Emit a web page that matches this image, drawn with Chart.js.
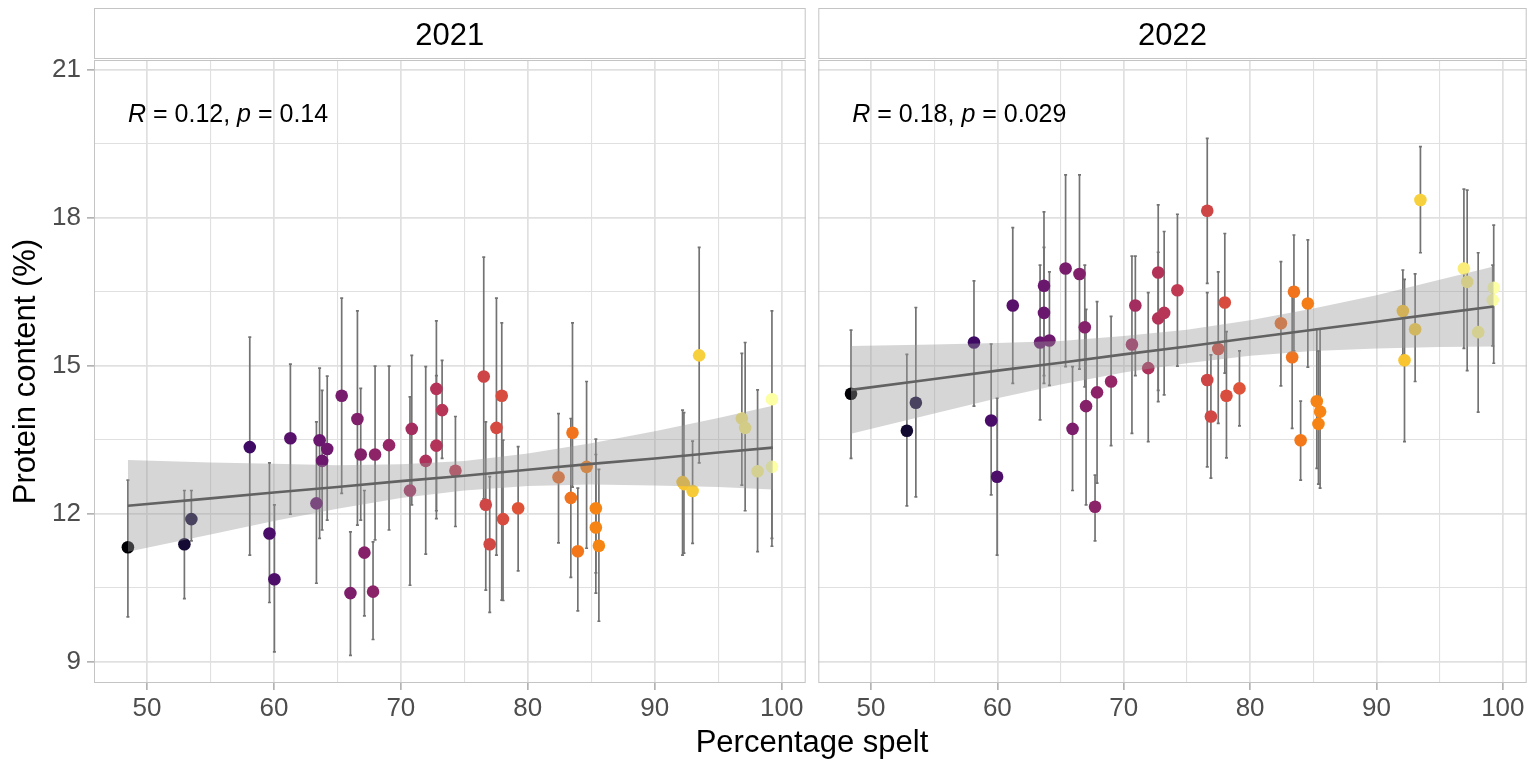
<!DOCTYPE html>
<html>
<head>
<meta charset="utf-8">
<script src="https://cdn.jsdelivr.net/npm/chart.js@4.4.0/dist/chart.umd.min.js"></script>
<style>
  html, body { margin: 0; padding: 0; background: #fff; }
  #wrap { position: relative; width: 1533px; height: 764px; }
  #c2021 { position: absolute; left: 0; top: 0; }
  #c2022 { position: absolute; left: 812px; top: 0; }
  #xtitle { position: absolute; left: 94px; width: 1436px; top: 724px; text-align: center;
            font: 31px 'Liberation Sans', Arial, sans-serif; color: #000; }
</style>
</head>
<body>
<div id="wrap">
  <canvas id="c2021" width="812" height="764"></canvas>
  <canvas id="c2022" width="721" height="764"></canvas>
  <div id="xtitle">Percentage spelt</div>
</div>
<script>
// axes
const xGrid = [50, 55, 60, 65, 70, 75, 80, 85, 90, 95, 100];
const xLabels = [50, 60, 70, 80, 90, 100];
const yGrid = [9, 10.5, 12, 13.5, 15, 16.5, 18, 19.5, 21];
const yLabels = [9, 12, 15, 18, 21];

// 2021
const spelt2021   = [48.5, 52.95, 53.5, 58.1, 59.65, 60.04, 61.3, 63.35, 63.6, 63.8, 64.2, 65.34, 66.03, 66.58, 66.84, 67.13, 67.81, 67.97, 69.07, 70.72, 70.86, 71.96, 72.8, 72.8, 73.25, 74.3, 76.53, 76.69, 77.0, 77.53, 77.95, 78.05, 79.24, 82.42, 83.39, 83.52, 83.94, 84.63, 85.36, 85.36, 85.6, 92.19, 92.3, 92.98, 93.5, 96.86, 97.12, 98.1, 99.23, 99.23];
const protein2021 = [11.32, 11.38, 11.89, 13.35, 11.6, 10.67, 13.53, 12.21, 13.49, 13.07, 13.31, 14.39, 10.39, 13.92, 13.2, 11.21, 10.42, 13.2, 13.39, 12.47, 13.72, 13.07, 14.53, 13.38, 14.1, 12.87, 14.78, 12.18, 11.38, 13.74, 14.39, 11.89, 12.11, 12.74, 12.32, 13.64, 11.24, 12.95, 12.11, 11.72, 11.35, 12.64, 12.6, 12.46, 15.21, 13.93, 13.74, 12.86, 14.32, 12.95];
const lower2021   = [9.91, 10.28, 11.45, 11.16, 10.2, 9.2, 11.99, 10.59, 11.5, 11.67, 11.87, 12.41, 9.13, 11.77, 11.87, 9.93, 9.45, 11.47, 11.67, 10.55, 12.18, 11.18, 12.06, 11.9, 13.12, 11.74, 12.3, 10.45, 10.0, 11.16, 10.25, 10.24, 10.84, 11.41, 10.71, 12.54, 10.03, 11.3, 10.8, 10.39, 9.82, 11.16, 11.2, 11.4, 13.03, 12.58, 12.06, 11.23, 11.34, 11.5];
const upper2021   = [12.68, 12.47, 12.47, 15.58, 13.03, 12.18, 15.03, 13.86, 14.95, 14.5, 14.79, 16.37, 11.63, 16.11, 14.54, 12.47, 11.43, 14.99, 14.99, 14.37, 15.21, 14.98, 15.91, 14.8, 15.11, 13.97, 17.2, 13.86, 12.75, 16.37, 15.87, 13.49, 13.36, 14.03, 13.93, 15.87, 12.52, 14.68, 13.51, 13.2, 12.9, 14.1, 14.05, 13.47, 17.4, 15.25, 15.47, 14.51, 16.11, 14.4];
const fitX2021   = [48.5, 55, 60, 65, 70, 75, 80, 85, 90, 95, 99.3];
const fit2021    = [12.16, 12.31, 12.43, 12.54, 12.66, 12.77, 12.89, 13.01, 13.12, 13.24, 13.34];
const bandLo2021 = [11.23, 11.58, 11.85, 12.10, 12.32, 12.47, 12.56, 12.59, 12.57, 12.54, 12.49];
const bandHi2021 = [13.09, 13.04, 13.01, 12.98, 13.00, 13.07, 13.22, 13.43, 13.67, 13.94, 14.19];
const r2021 = '0.12', p2021 = '0.14';

// 2022
const spelt2022   = [48.42, 52.84, 53.55, 58.15, 59.51, 59.98, 61.22, 63.38, 63.69, 63.69, 64.12, 65.4, 65.95, 66.5, 66.92, 67.02, 67.73, 67.89, 69.0, 70.65, 70.92, 71.94, 72.73, 72.73, 73.2, 74.25, 76.61, 76.61, 76.9, 77.48, 78.0, 78.13, 79.16, 82.44, 83.33, 83.47, 84.0, 84.57, 85.28, 85.41, 85.54, 92.09, 92.22, 93.06, 93.48, 96.92, 97.18, 98.05, 99.28, 99.2];
const protein2022 = [14.43, 13.68, 14.25, 15.47, 13.89, 12.75, 16.22, 15.47, 16.62, 16.07, 15.51, 16.97, 13.72, 16.86, 15.78, 14.18, 12.14, 14.46, 14.68, 15.43, 16.22, 14.95, 16.89, 15.96, 16.07, 16.53, 18.14, 14.71, 13.97, 15.34, 16.28, 14.39, 14.54, 15.86, 15.17, 16.5, 13.49, 16.26, 14.28, 13.82, 14.07, 16.11, 15.11, 15.74, 18.36, 16.97, 16.7, 15.68, 16.58, 16.33];
const lower2022   = [13.12, 12.16, 12.34, 14.18, 12.38, 11.16, 14.64, 13.9, 14.64, 14.8, 14.6, 14.98, 12.47, 14.93, 14.57, 12.18, 11.45, 12.62, 13.38, 13.63, 14.8, 13.46, 14.27, 14.5, 14.41, 14.99, 16.67, 12.95, 12.72, 13.83, 14.85, 13.13, 13.78, 14.59, 13.73, 15.3, 12.68, 14.97, 12.92, 12.6, 12.52, 15.22, 13.46, 14.68, 17.29, 15.35, 14.9, 14.06, 15.05, 15.4];
const upper2022   = [15.72, 15.23, 16.18, 16.72, 15.44, 14.34, 17.8, 17.04, 18.12, 17.4, 16.9, 18.87, 14.98, 18.87, 17.04, 16.14, 12.78, 16.3, 16.0, 17.22, 17.22, 16.48, 18.26, 17.3, 17.72, 18.07, 19.61, 16.48, 15.22, 16.9, 17.68, 15.69, 15.3, 17.11, 16.6, 17.65, 14.28, 17.55, 15.74, 15.3, 15.74, 16.94, 16.75, 16.86, 19.44, 18.58, 18.56, 17.29, 17.85, 17.04];
const fitX2022   = [48.42, 55, 60, 65, 70, 75, 80, 85, 90, 95, 99.28];
const fit2022    = [14.51, 14.73, 14.90, 15.06, 15.23, 15.39, 15.56, 15.73, 15.89, 16.06, 16.20];
const bandLo2022 = [13.62, 14.03, 14.34, 14.62, 14.86, 15.05, 15.20, 15.30, 15.35, 15.38, 15.39];
const bandHi2022 = [15.40, 15.43, 15.46, 15.50, 15.60, 15.73, 15.92, 16.16, 16.43, 16.74, 17.01];
const r2022 = '0.18', p2022 = '0.029';

const FONT = "'Liberation Sans', Arial, sans-serif";
Chart.defaults.font.family = FONT;

// inferno colour scale (viridis "inferno")
const infernoStops = ['#000004', '#160b39', '#420a68', '#6a176e', '#932667', '#bc3754', '#dd513a', '#f37819', '#fca50a', '#f6d746', '#fcffa4'];
function inferno(t) {
  t = Math.max(0, Math.min(1, t));
  const pos = t * (infernoStops.length - 1);
  const i = Math.min(Math.floor(pos), infernoStops.length - 2);
  const f = pos - i;
  const a = infernoStops[i], b = infernoStops[i + 1];
  const c = k => Math.round(parseInt(a.substr(k, 2), 16) * (1 - f) + parseInt(b.substr(k, 2), 16) * f);
  return `rgb(${c(1)},${c(3)},${c(5)})`;
}
const allSpelt = spelt2021.concat(spelt2022);
const colMin = Math.min(...allSpelt), colMax = Math.max(...allSpelt);

// plugin: errorbars, panel border, strip, R/p label
function panelPlugin(year, spelt, lower, upper, r, p) {
  return {
    id: 'panel' + year,
    beforeDatasetsDraw(chart) {
      const { ctx, chartArea: a, scales: { x, y } } = chart;
      ctx.save();
      ctx.beginPath();
      ctx.rect(a.left, a.top, a.right - a.left, a.bottom - a.top);
      ctx.clip();
      ctx.strokeStyle = '#737373';
      ctx.lineWidth = 1.7;
      spelt.forEach((v, i) => {
        const px = x.getPixelForValue(v);
        const top = y.getPixelForValue(upper[i]);
        const bot = y.getPixelForValue(lower[i]);
        ctx.beginPath();
        ctx.moveTo(px, top); ctx.lineTo(px, bot);
        ctx.moveTo(px - 1.5, top); ctx.lineTo(px + 1.5, top);
        ctx.moveTo(px - 1.5, bot); ctx.lineTo(px + 1.5, bot);
        ctx.stroke();
      });
      ctx.restore();
    },
    afterDraw(chart) {
      const { ctx, chartArea: a } = chart;
      ctx.save();
      ctx.strokeStyle = '#c4c4c4';
      ctx.lineWidth = 1;
      ctx.strokeRect(a.left + 0.5, a.top + 0.5, a.right - a.left - 1, a.bottom - a.top - 1);
      // strip
      ctx.fillStyle = '#fff';
      ctx.fillRect(a.left, 8, a.right - a.left, a.top - 9);
      ctx.strokeRect(a.left + 0.5, 8.5, a.right - a.left - 1, a.top - 10);
      ctx.fillStyle = '#000';
      ctx.font = `31px ${FONT}`;
      ctx.textAlign = 'center';
      ctx.textBaseline = 'middle';
      ctx.fillText(String(year), (a.left + a.right) / 2, 36);
      // correlation label
      ctx.textAlign = 'left';
      ctx.textBaseline = 'alphabetic';
      let tx = a.left + 34;
      const ty = a.top + 62;
      [['R', true], [' = ' + r + ', ', false], ['p', true], [' = ' + p, false]].forEach(([s, it]) => {
        ctx.font = `${it ? 'italic ' : ''}25px ${FONT}`;
        ctx.fillText(s, tx, ty);
        tx += ctx.measureText(s).width;
      });
      ctx.restore();
    }
  };
}

function makeChart(id, year, spelt, protein, lower, upper, fitX, fit, bandLo, bandHi, r, p, isLeft) {
  const colors = spelt.map(v => inferno((v - colMin) / (colMax - colMin)));
  return new Chart(document.getElementById(id), {
    type: 'scatter',
    data: {
      datasets: [
        { data: spelt.map((v, i) => ({ x: v, y: protein[i] })), backgroundColor: colors,
          borderWidth: 0, pointRadius: 6.3, pointHoverRadius: 6.3, order: 2 },
        { type: 'line', data: fitX.map((v, i) => ({ x: v, y: bandLo[i] })),
          borderColor: 'rgba(0,0,0,0)', borderWidth: 0, pointRadius: 0, fill: false, order: 1 },
        { type: 'line', data: fitX.map((v, i) => ({ x: v, y: bandHi[i] })),
          borderColor: 'rgba(0,0,0,0)', borderWidth: 0, pointRadius: 0, fill: '-1',
          backgroundColor: 'rgba(153,153,153,0.4)', order: 1 },
        { type: 'line', data: fitX.map((v, i) => ({ x: v, y: fit[i] })),
          borderColor: '#626262', borderWidth: 2.6, pointRadius: 0, fill: false, order: 0 }
      ]
    },
    options: {
      responsive: false,
      animation: false,
      events: [],
      layout: { padding: { top: 60, right: isLeft ? 6 : 3, bottom: 0, left: 0 } },
      plugins: { legend: { display: false }, tooltip: { enabled: false } },
      scales: {
        x: {
          type: 'linear', min: 45.83, max: 101.89,
          afterBuildTicks: s => { s.ticks = xGrid.map(v => ({ value: v })); },
          afterFit: s => { s.height = 81; },
          border: { display: false },
          grid: {
            color: '#e0e0e0',
            lineWidth: c => xLabels.includes(c.tick.value) ? 1.7 : 1.1,
            tickLength: 7,
            tickColor: c => xLabels.includes(c.tick.value) ? '#b3b3b3' : 'rgba(0,0,0,0)'
          },
          ticks: {
            autoSkip: false, maxRotation: 0, padding: 3, color: '#4d4d4d', font: { size: 26 },
            callback: v => xLabels.includes(v) ? String(v) : ''
          }
        },
        y: {
          type: 'linear', min: 8.568, max: 21.197,
          afterBuildTicks: s => { s.ticks = yGrid.map(v => ({ value: v })); },
          afterFit: s => { s.width = isLeft ? 94 : 6; },
          border: { display: false },
          title: {
            display: isLeft, text: 'Protein content (%)', color: '#000',
            font: { size: 31 }, padding: { top: 8, bottom: 0 }
          },
          grid: {
            color: '#e0e0e0',
            lineWidth: c => yLabels.includes(c.tick.value) ? 1.7 : 1.1,
            drawTicks: isLeft,
            tickLength: 7,
            tickColor: c => yLabels.includes(c.tick.value) ? '#b3b3b3' : 'rgba(0,0,0,0)'
          },
          ticks: {
            display: isLeft, padding: 6, color: '#4d4d4d', font: { size: 26 },
            callback: v => yLabels.includes(v) ? String(v) : ''
          }
        }
      }
    },
    plugins: [panelPlugin(year, spelt, lower, upper, r, p)]
  });
}

makeChart('c2021', 2021, spelt2021, protein2021, lower2021, upper2021, fitX2021, fit2021, bandLo2021, bandHi2021, r2021, p2021, true);
makeChart('c2022', 2022, spelt2022, protein2022, lower2022, upper2022, fitX2022, fit2022, bandLo2022, bandHi2022, r2022, p2022, false);
</script>
</body>
</html>
